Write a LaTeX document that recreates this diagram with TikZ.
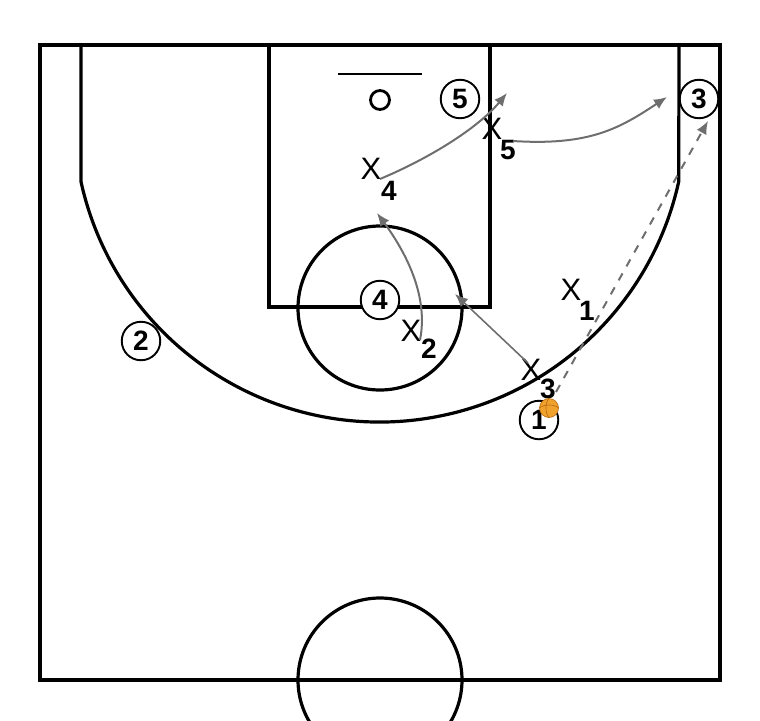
\documentclass[tikz,border=0pt]{standalone}
\usepackage{fontspec}
\setmainfont{Liberation Sans}
\usetikzlibrary{arrows.meta}
\definecolor{mvgray}{HTML}{6E6E6E}
\definecolor{ballor}{HTML}{EFA22E}
\definecolor{ballln}{HTML}{B8660E}
\begin{document}
\begin{tikzpicture}[x=1pt,y=-1pt,
  court/.style={line width=3.2pt, black},
  off/.style={circle, draw, line width=1.9pt, minimum size=38.5pt, inner sep=0pt,
    font=\fontsize{28pt}{28pt}\selectfont\bfseries, fill=white},
  defx/.style={inner sep=0pt, font=\fontsize{31pt}{31pt}\selectfont},
  defn/.style={inner sep=0pt, font=\fontsize{28pt}{28pt}\selectfont\bfseries},
  mv/.style={draw=mvgray, line width=2pt, -{Latex[length=13pt,width=11pt]}},
  pass/.style={mv, dash pattern=on 8pt off 8pt},
]
\useasboundingbox (0,0) rectangle (760,720);
\clip (0,0) rectangle (760,720);
% court
\draw[court] (40,45) rectangle (720,680);
\draw[court] (269,45) rectangle (490,307);
\draw[court] (380,308) circle[radius=82];
\draw[court] (380,680) circle[radius=82];
\draw[court] (81,45) -- (81,181.7) arc[start angle=167.6, end angle=12.4, radius=306] -- (679,45);
\draw[line width=2pt] (338,74) -- (422,74);
\draw[line width=2.8pt] (380,100) circle[radius=9.5];
% offense
\node[off] (o5) at (460,99) {5};
\node[off] (o3) at (699,99) {3};
\node[off] (o4) at (380,300) {4};
\node[off] (o2) at (141,341) {2};
\node[off] (o1) at (539,420) {1};
% defense
\node[defx] (x4) at (371,169) {X};
\node[defn] (x4s) at (389,191) {4};
\node[defx] (x5) at (492,129) {X};
\node[defn] (x5s) at (508,150) {5};
\node[defx] (x1) at (571,290) {X};
\node[defn] (x1s) at (587,311) {1};
\node[defx] (x2) at (411,331) {X};
\node[defn] (x2s) at (429,349) {2};
\node[defx] (x3) at (531,370) {X};
\node[defn] (x3s) at (548,389) {3};
% coordinates for movements
\coordinate (a1s) at (380,179);
\coordinate (a1e) at (507,93);
\coordinate (a2s) at (513,141);
\coordinate (a2e) at (667,97);
\coordinate (a3s) at (420,340);
\coordinate (a3e) at (377,213);
\coordinate (a4s) at (528,363);
\coordinate (a4e) at (455,294);
\coordinate (a5s) at (556,392);
\coordinate (a5e) at (708,121);
% movements
\draw[mv] (a1s) .. controls (430,158) and (478,128) .. (a1e);
\draw[mv] (a2s) .. controls (590,146) and (620,128) .. (a2e);
\draw[mv] (a3s) .. controls (428,300) and (410,258) .. (a3e);
\draw[mv, line width=1.6pt] (a4s) -- (a4e);
\draw[pass] (a5s) -- (a5e);
% ball
\node[circle, fill=ballor, draw=ballln, line width=0.6pt, minimum size=19pt, inner sep=0pt] (ball) at (549,408) {};
\draw[ballln, line width=0.6pt] (ball.north) .. controls (545,403) and (545,413) .. (ball.south);
\draw[ballln, line width=0.6pt] (ball.west) .. controls (544,404) and (554,404) .. (ball.east);
\end{tikzpicture}
\end{document}
